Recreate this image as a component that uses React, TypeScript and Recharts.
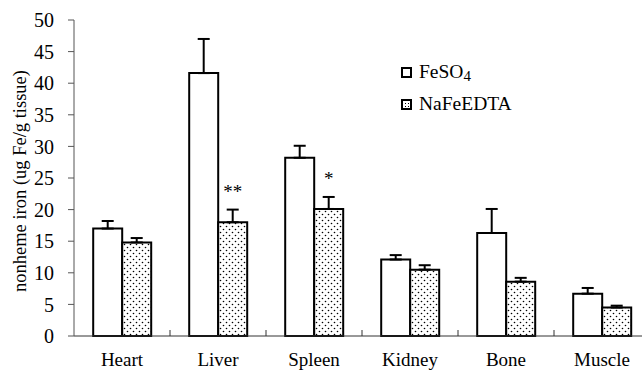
import { Bar, BarChart, ErrorBar, LabelList, XAxis, YAxis } from 'recharts'

const categories = ['Heart', 'Liver', 'Spleen', 'Kidney', 'Bone', 'Muscle']
const feso4 = [17.0, 41.6, 28.2, 12.1, 16.3, 6.7]
const feso4Err = [1.2, 5.4, 1.9, 0.7, 3.8, 0.9]
const nafe = [14.8, 18.0, 20.1, 10.5, 8.6, 4.5]
const nafeErr = [0.7, 2.0, 1.9, 0.7, 0.6, 0.3]
const marks = ['', '**', '*', '', '', '']
const yTicks = [0, 5, 10, 15, 20, 25, 30, 35, 40, 45, 50]

const font = '"Liberation Serif", "Times New Roman", serif'

const data = categories.map((name, i) => ({
  name,
  feso4: feso4[i],
  feso4Err: [0, feso4Err[i]],
  nafe: nafe[i],
  nafeErr: [0, nafeErr[i]],
  mark: marks[i],
}))

// category label at band centre, small upward tick at the band boundary
function CatTick(props: any) {
  const { x, y, payload } = props
  const half = payload?.offset ?? 48
  return (
    <g>
      <line x1={x + half} y1={y} x2={x + half} y2={y - 6} stroke="#333" strokeWidth={1} />
      <text x={x} y={y + 30} textAnchor="middle" fontSize={19} fontFamily={font} fill="#000">
        {payload.value}
      </text>
    </g>
  )
}

function Mark(props: any) {
  const { x, y, width, height, value, index } = props
  if (!value) return null
  const pxPerUnit = height / nafe[index]
  const capY = y - nafeErr[index] * pxPerUnit
  return (
    <text x={x + width / 2} y={capY - 12} textAnchor="middle" fontSize={19} fontFamily={font} fill="#000">
      {value}
    </text>
  )
}

function Swatch({ dotted }: { dotted?: boolean }) {
  return (
    <svg width={11} height={11} style={{ display: 'block' }}>
      <defs>
        <pattern id="legDots" width={3} height={3} patternUnits="userSpaceOnUse">
          <rect width={3} height={3} fill="#fff" />
          <rect x={1} y={1} width={1} height={1} fill="#000" />
        </pattern>
      </defs>
      <rect x={1} y={1} width={9} height={9} fill={dotted ? 'url(#legDots)' : '#fff'} stroke="#000" strokeWidth={2} />
    </svg>
  )
}

export default function App() {
  return (
    <div
      style={{
        position: 'fixed',
        left: 0,
        top: 0,
        width: 642,
        height: 371,
        overflow: 'hidden',
        background: '#fff',
        fontFamily: font,
      }}
    >
      <BarChart
        width={650}
        height={371}
        data={data}
        margin={{ top: 20, right: 0, left: 0, bottom: 0 }}
        barCategoryGap="20%"
        barGap={0}
      >
        <defs>
          <pattern id="dots" width={6} height={6} patternUnits="userSpaceOnUse">
            <rect width={6} height={6} fill="#fff" />
            <circle cx={1.5} cy={1.5} r={0.8} fill="#000" />
            <circle cx={4.5} cy={4.5} r={0.8} fill="#000" />
          </pattern>
        </defs>
        <XAxis
          dataKey="name"
          height={35}
          stroke="#333"
          tickLine={false}
          tickSize={0}
          tickMargin={0}
          tick={<CatTick />}
          interval={0}
        />
        <YAxis
          width={74}
          domain={[0, 50]}
          ticks={yTicks}
          interval={0}
          stroke="#555"
          tickSize={6}
          tickMargin={14}
          tick={{ fontSize: 20, fontFamily: font, fill: '#000' }}
          label={{
            content: ({ viewBox }: any) => {
              const cy = viewBox.y + viewBox.height / 2 + 3
              return (
                <text
                  x={20}
                  y={cy}
                  transform={`rotate(-90 20 ${cy})`}
                  textAnchor="middle"
                  dominantBaseline="central"
                  fontSize={18.5}
                  fontFamily={font}
                  fill="#000"
                >
                  nonheme iron (ug Fe/g tissue)
                </text>
              )
            },
          }}
        />
        <Bar dataKey="feso4" fill="#fff" stroke="#000" strokeWidth={2} isAnimationActive={false}>
          <ErrorBar dataKey="feso4Err" direction="y" width={6} stroke="#000" strokeWidth={2} />
        </Bar>
        <Bar dataKey="nafe" fill="url(#dots)" stroke="#000" strokeWidth={2} isAnimationActive={false}>
          <ErrorBar dataKey="nafeErr" direction="y" width={6} stroke="#000" strokeWidth={2} />
          <LabelList dataKey="mark" content={<Mark />} />
        </Bar>
      </BarChart>
      <div style={{ position: 'absolute', left: 401, top: 56, fontSize: 19.5, color: '#000' }}>
        <div style={{ display: 'flex', alignItems: 'center', height: 32 }}>
          <Swatch />
          <span style={{ marginLeft: 7 }}>
            FeSO<span style={{ fontSize: 15, position: 'relative', top: 3 }}>4</span>
          </span>
        </div>
        <div style={{ display: 'flex', alignItems: 'center', height: 32 }}>
          <Swatch dotted />
          <span style={{ marginLeft: 7 }}>NaFeEDTA</span>
        </div>
      </div>
    </div>
  )
}
